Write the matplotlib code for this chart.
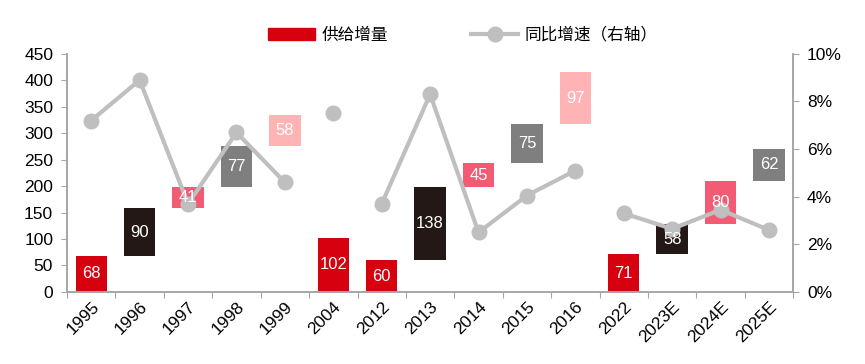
import matplotlib
matplotlib.use('Agg')
import matplotlib.pyplot as plt
import numpy as np
from matplotlib.patches import Patch
from matplotlib.lines import Line2D

plt.rcParams['font.family'] = ['Liberation Sans', 'Noto Sans CJK SC', 'DejaVu Sans']

years = ['1995', '1996', '1997', '1998', '1999', '2004', '2012', '2013',
         '2014', '2015', '2016', '2022', '2023E', '2024E', '2025E']
# supply increment and the cumulative base each floating bar starts from
increment = [68, 90, 41, 77, 58, 102, 60, 138, 45, 75, 97, 71, 58, 80, 62]
base = [0, 68, 158, 199, 276, 0, 0, 60, 198, 243, 318, 0, 71, 129, 209]
bar_kind = ['red', 'black', 'pink', 'gray', 'light', 'red', 'red', 'black',
            'pink', 'gray', 'light', 'red', 'black', 'pink', 'gray']
# yoy growth, %
growth = [7.2, 8.9, 3.7, 6.7, 4.6, 7.5, 3.7, 8.3, 2.5, 4.05, 5.1, 3.3, 2.65, 3.45, 2.6]
segment = [0, 0, 0, 0, 0, 1, 2, 2, 2, 2, 2, 3, 3, 3, 3]

colors = {'red': '#d7000f', 'black': '#231815', 'pink': '#f25b73',
          'gray': '#7f7f7f', 'light': '#ffb3b5'}
line_color = '#bfbfbf'
axis_color = '#a6a6a6'

fig = plt.figure(figsize=(8.65, 3.64), dpi=100)
ax = fig.add_axes([0.0775, 0.198, 0.8395, 0.654])
x = np.arange(len(years))

ax.bar(x, increment, bottom=base, width=0.65,
       color=[colors[k] for k in bar_kind], zorder=2)
ax.set_ylim(0, 450)
ax.set_yticks(range(0, 451, 50))
ax.set_xlim(-0.5, len(years) - 0.5)

ax2 = ax.twinx()
for s in sorted(set(segment)):
    idx = [i for i in range(len(years)) if segment[i] == s]
    ax2.plot(x[idx], [growth[i] for i in idx], color=line_color, lw=3,
             marker='o', ms=10.5, zorder=3)
ax2.set_ylim(0, 10)
ax2.set_yticks(range(0, 11, 2))
ax2.set_yticklabels([f'{v}%' for v in range(0, 11, 2)])

for i in range(len(years)):
    ax2.text(x[i], base[i] + increment[i] / 2, str(increment[i]),
             transform=ax.transData, ha='center', va='center',
             color='white', fontsize=12, zorder=5)

# x ticks at category boundaries, labels at centres
ax.set_xticks(np.arange(-0.5, len(years), 1))
ax.set_xticklabels([])
ax.set_xticks(x, minor=True)
ax.set_xticklabels(years, minor=True, rotation=45, ha='right',
                   rotation_mode='anchor', fontsize=12.5)
ax.tick_params(axis='x', which='minor', length=0, pad=5)
ax.tick_params(axis='x', which='major', length=4, color=axis_color)
ax.tick_params(axis='y', length=4, color=axis_color, labelsize=12.5, pad=6)
ax2.tick_params(axis='y', length=4, color=axis_color, labelsize=12.5, pad=6)

for a in (ax, ax2):
    a.spines['top'].set_visible(False)
    for side in ('left', 'right', 'bottom'):
        a.spines[side].set_color(axis_color)
        a.spines[side].set_linewidth(1.2)

handles = [Patch(color=colors['red']),
           Line2D([0], [0], color=line_color, lw=3, marker='o', ms=10.5)]
fig.legend(handles, ['供给增量', '同比增速（右轴）'], loc='center',
           bbox_to_anchor=(0.535, 0.905), ncol=2, frameon=False,
           fontsize=12, handlelength=2.8, columnspacing=5, handletextpad=0.4)

fig.savefig('out.png', dpi=100)
